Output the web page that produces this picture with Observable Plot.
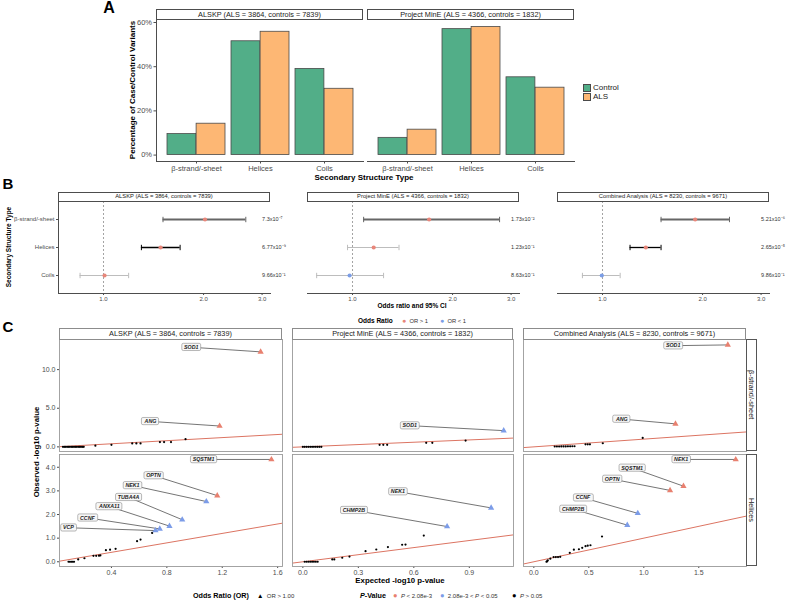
<!DOCTYPE html>
<html><head><meta charset="utf-8">
<script src="https://cdn.jsdelivr.net/npm/d3@7"></script>
<script src="https://cdn.jsdelivr.net/npm/@observablehq/plot@0.6"></script>
<style>
body{margin:0;background:#fff;}
#root{position:relative;width:787px;height:605px;overflow:hidden;font-family:"Liberation Sans",Arial,sans-serif;background:#fff;color:#1a1a1a;}
.abs{position:absolute;white-space:nowrap;line-height:1;}
.strip{position:absolute;box-sizing:border-box;background:#fff;display:flex;align-items:center;justify-content:center;color:#1a1a1a;white-space:nowrap;line-height:1;}
</style></head><body><div id="root"></div>
<script>
// ---------------- DATA ----------------
const structures = ["β-strand/-sheet", "Helices", "Coils"];
const groups = ["Control", "ALS"];
const aDatasets = ["ALSKP (ALS = 3864, controls = 7839)", "Project MinE (ALS = 4366, controls = 1832)"];
// percentage of variants, per dataset, per structure
const aControl = [[9.5, 51.5, 39.0], [7.8, 57.0, 35.2]];
const aALS = [[14.2, 55.8, 30.0], [11.5, 58.0, 30.5]];
const aYTicks = [0, 20, 40, 60];

const bDatasets = ["ALSKP (ALS = 3864, controls = 7839)", "Project MinE (ALS = 4366, controls = 1832)", "Combined Analysis (ALS = 8230, controls = 9671)"];
const bOR = [[2.02, 1.485, 1.007], [1.70, 1.158, 0.98], [1.90, 1.35, 0.995]];
const bLo = [[1.51, 1.30, 0.85], [1.08, 0.966, 0.78], [1.50, 1.21, 0.87]];
const bHi = [[2.68, 1.70, 1.19], [2.77, 1.38, 1.24], [2.41, 1.50, 1.13]];
const bPMant = [["7.3", "6.77", "9.66"], ["1.73", "1.23", "8.63"], ["5.21", "2.65", "9.86"]];
const bPExp = [[-7, -9, -1], [-2, -1, -1], [-6, -5, -1]];
const bTier = [["strong", "sig", "ns"], ["strong", "ns", "ns"], ["strong", "sig", "ns"]];
const bXTicks = [1, 2, 3];
const bXDomain = [0.732, 3.18];

const cCols = ["ALSKP (ALS = 3864, controls = 7839)", "Project MinE (ALS = 4366, controls = 1832)", "Combined Analysis (ALS = 8230, controls = 9671)"];
const cRows = ["β-strand/-sheet", "Helices"];
const cXDomains = [[0.025, 1.635], [-0.056, 1.139], [-0.094, 1.934]];
const cYDomains = [[-0.6, 13.9], [-0.2, 4.54]];
const cXTicks = [[0.4, 0.8, 1.2, 1.6], [0, 0.3, 0.6, 0.9], [0, 0.5, 1.0, 1.5]];
const cYTicks = [[0, 5, 10], [0, 1, 2, 3, 4]];
const pClasses = ["P < 2.08e-3", "2.08e-3 < P < 0.05", "P > 0.05"];

const geneNames = [
  [["SOD1", "ANG"], ["SOD1"], ["SOD1", "ANG"]],
  [["SQSTM1", "OPTN", "NEK1", "TUBA4A", "ANXA11", "CCNF", "VCP"], ["NEK1", "CHMP2B"], ["NEK1", "SQSTM1", "OPTN", "CCNF", "CHMP2B"]]
];
const geneExpected = [
  [[1.477, 1.181], [1.086], [1.764, 1.288]],
  [[1.555, 1.164, 1.085, 0.911, 0.819, 0.749, 0.718], [1.018, 0.78], [1.836, 1.361, 1.239, 0.945, 0.85]]
];
const geneObserved = [
  [[12.3, 2.7], [2.1], [13.2, 2.98]],
  [[4.33, 2.80, 2.55, 1.78, 1.51, 1.39, 1.32], [2.28, 1.49], [4.33, 3.2, 3.02, 2.05, 1.55]]
];
const genePClass = [
  [[0, 0], [1], [0, 0]],
  [[0, 0, 1, 1, 1, 1, 1], [1, 1], [0, 0, 0, 1, 1]]
];
const labelExpected = [
  [[0.976, 0.682], [0.578], [1.267, 0.80]],
  [[1.065, 0.704, 0.552, 0.523, 0.385, 0.226, 0.089], [0.514, 0.276], [1.34, 0.894, 0.712, 0.447, 0.357]]
];
const labelObserved = [
  [[12.9, 3.3], [2.75], [13.1, 3.6]],
  [[4.33, 3.65, 3.23, 2.73, 2.34, 1.86, 1.44], [2.97, 2.18], [4.33, 3.97, 3.5, 2.71, 2.23]]
];
const bgExpected = [
  [[0.05, 0.06, 0.07, 0.08, 0.09, 0.10, 0.11, 0.12, 0.13, 0.14, 0.15, 0.16, 0.17, 0.18, 0.19, 0.20, 0.284, 0.40, 0.55, 0.58, 0.61, 0.75, 0.78, 0.83, 0.935],
   [0.0, 0.01, 0.02, 0.03, 0.04, 0.05, 0.06, 0.07, 0.08, 0.09, 0.10, 0.415, 0.435, 0.456, 0.667, 0.70, 0.88],
   [0.19, 0.21, 0.23, 0.25, 0.27, 0.29, 0.31, 0.33, 0.35, 0.37, 0.47, 0.49, 0.51, 0.627, 0.99]],
  [[0.09, 0.10, 0.11, 0.12, 0.13, 0.16, 0.205, 0.27, 0.29, 0.31, 0.32, 0.36, 0.39, 0.43, 0.585, 0.61, 0.694],
   [0.01, 0.02, 0.03, 0.04, 0.05, 0.06, 0.07, 0.08, 0.159, 0.17, 0.213, 0.252, 0.339, 0.397, 0.46, 0.537, 0.555, 0.654],
   [0.115, 0.12, 0.127, 0.15, 0.18, 0.20, 0.22, 0.24, 0.327, 0.364, 0.41, 0.44, 0.47, 0.49, 0.515, 0.62]]
];
const bgObserved = [
  [[0, 0, 0, 0, 0, 0, 0, 0, 0, 0, 0, 0, 0, 0, 0, 0, 0.15, 0.27, 0.45, 0.45, 0.45, 0.62, 0.62, 0.62, 1.0],
   [0, 0, 0, 0, 0, 0, 0, 0, 0, 0, 0, 0.26, 0.26, 0.26, 0.52, 0.52, 0.81],
   [0.05, 0.05, 0.05, 0.06, 0.06, 0.06, 0.07, 0.07, 0.08, 0.08, 0.33, 0.33, 0.33, 0.47, 1.16]],
  [[0, 0, 0, 0, 0, 0.1, 0.15, 0.25, 0.25, 0.26, 0.27, 0.49, 0.51, 0.55, 0.87, 0.94, 1.22],
   [0, 0, 0, 0, 0, 0, 0, 0, 0.1, 0.1, 0.17, 0.22, 0.45, 0.52, 0.62, 0.72, 0.73, 1.11],
   [0, 0.02, 0.055, 0.13, 0.2, 0.2, 0.2, 0.21, 0.38, 0.51, 0.53, 0.59, 0.66, 0.68, 0.70, 1.07]]
];

// ---------------- STYLE ----------------
const FONT = "'Liberation Sans', Arial, Helvetica, sans-serif";
const colControl = "#52ae88", colALS = "#fdb774";
const colUp = "#e8867a", colDown = "#7b9de6";
const pColors = ["#e8806f", "#7c9ce8", "#000000"];
const root = document.getElementById("root");

function put(el, left, top) { el.style.position = "absolute"; el.style.left = left + "px"; el.style.top = top + "px"; root.appendChild(el); return el; }
function txt(html, cx, cy, css, rotate) {
  const d = document.createElement("div"); d.className = "abs"; d.innerHTML = html;
  Object.assign(d.style, css || {});
  d.style.transform = "translate(-50%,-50%)" + (rotate ? " rotate(" + rotate + "deg)" : "");
  return put(d, cx, cy);
}
function ltxt(html, x, cy, css) {
  const d = document.createElement("div"); d.className = "abs"; d.innerHTML = html;
  Object.assign(d.style, css || {}); d.style.transform = "translate(0,-50%)";
  return put(d, x, cy);
}
function strip(text, x, y, w, h, fs, border, vertical) {
  const d = document.createElement("div"); d.className = "strip";
  d.style.width = w + "px"; d.style.height = h + "px"; d.style.border = "1px solid " + border; d.style.fontSize = fs + "px";
  const s = document.createElement("span"); s.textContent = text;
  if (vertical) { s.style.writingMode = "vertical-rl"; }
  d.appendChild(s);
  return put(d, x, y);
}
function baseStyle(fs) { return {background: "transparent", overflow: "visible", fontFamily: FONT, fontSize: fs + "px", color: "#4d4d4d"}; }

// ---------------- PANEL A ----------------
function panelA(k, frameLeft, showY) {
  const data = [];
  structures.forEach((s, i) => {
    data.push({structure: s, group: "Control", value: aControl[k][i]});
    data.push({structure: s, group: "ALS", value: aALS[k][i]});
  });
  const pw = 207, ph = 141, ml = showY ? 34 : 0, mb = 14;
  const step = pw / 3.2, bw = step * 0.9;
  const svg = Plot.plot({
    width: pw + ml, height: ph + mb, marginLeft: ml, marginRight: 0, marginTop: 0, marginBottom: mb,
    style: baseStyle(7.5),
    x: {domain: structures, paddingInner: 0.1, paddingOuter: 0.15, tickSize: 2.5, tickPadding: 2, label: null, line: true},
    y: {domain: [-2.9, 60.9], ticks: aYTicks, tickFormat: d => d + "%", tickSize: 2.5, tickPadding: 2, label: null, axis: showY ? "left" : null, line: showY},
    marks: [
      Plot.barY(data.filter(d => d.group === "Control"), {x: "structure", y1: 0, y2: "value", fill: colControl, stroke: "#4a4a4a", strokeWidth: 0.8, insetRight: bw / 2}),
      Plot.barY(data.filter(d => d.group === "ALS"), {x: "structure", y1: 0, y2: "value", fill: colALS, stroke: "#4a4a4a", strokeWidth: 0.8, insetLeft: bw / 2})
    ]
  });
  put(svg, frameLeft - ml, 20);
  strip(aDatasets[k], frameLeft, 9, pw, 11, 7.3, "#4d4d4d");
}

// ---------------- PANEL B ----------------
const sup = {"-": "⁻", "0": "⁰", "1": "¹", "2": "²", "3": "³", "4": "⁴", "5": "⁵", "6": "⁶", "7": "⁷", "8": "⁸", "9": "⁹"};
function fmtP(m, e) { return m + "x10" + String(e).split("").map(c => sup[c]).join(""); }
const tierStyle = {strong: ["#666666", 1.8], sig: ["#000000", 1.3], ns: ["#bdbdbd", 1]};
const capSymbol = {draw(ctx, size) { const r = Math.sqrt(size / Math.PI); ctx.moveTo(0, -r); ctx.lineTo(0, r); }};
function panelB(k, frameLeft, showY) {
  const rows = structures.map((s, i) => ({structure: s, or: bOR[k][i], lo: bLo[k][i], hi: bHi[k][i], p: fmtP(bPMant[k][i], bPExp[k][i]), tier: bTier[k][i], pos: 3}));
  const pw = 212, ph = 92, ml = showY ? 58 : 0, mb = 12;
  const marks = [Plot.ruleX([1], {stroke: "#8a8a8a", strokeDasharray: "2,2", strokeWidth: 0.8})];
  for (const t of ["ns", "strong", "sig"]) {
    const sub = rows.filter(d => d.tier === t);
    const [c, w] = tierStyle[t];
    marks.push(Plot.ruleY(sub, {y: "structure", x1: "lo", x2: "hi", stroke: c, strokeWidth: w}));
    marks.push(Plot.dot(sub, {x: "lo", y: "structure", symbol: capSymbol, r: 2.7, fill: "none", stroke: c, strokeWidth: 1}));
    marks.push(Plot.dot(sub, {x: "hi", y: "structure", symbol: capSymbol, r: 2.7, fill: "none", stroke: c, strokeWidth: 1}));
  }
  marks.push(Plot.dot(rows, {x: "or", y: "structure", r: 2.1, fill: d => d.or >= 1 ? colUp : colDown}));
  marks.push(Plot.text(rows, {x: "pos", y: "structure", text: "p", textAnchor: "start", fontSize: 5.5, fill: "#333"}));
  const svg = Plot.plot({
    width: pw + ml + 30, height: ph + mb, marginLeft: ml, marginRight: 30, marginTop: 0, marginBottom: mb,
    style: baseStyle(6),
    color: {type: "identity"},
    x: {type: "log", domain: bXDomain, ticks: bXTicks, tickFormat: d3.format(".1f"), tickSize: 2, tickPadding: 1.5, label: null, line: true},
    y: {type: "point", domain: structures, padding: 0.6, tickSize: 2, tickPadding: 2, label: null, axis: showY ? "left" : null, line: showY},
    marks
  });
  put(svg, frameLeft - ml, 201);
  strip(bDatasets[k], frameLeft, 192, pw, 9.5, 5.8, "#4d4d4d");
}

// ---------------- PANEL C ----------------
const cColX = [59, 292, 523], cColW = [223, 221, 223];
const cRowY = [339, 454], cRowH = 112;
function panelC(r, c) {
  const xd = cXDomains[c], yd = cYDomains[r];
  const genes = geneNames[r][c].map((g, i) => ({gene: g, x: geneExpected[r][c][i], y: geneObserved[r][c][i], lx: labelExpected[r][c][i], ly: labelObserved[r][c][i], p: pClasses[genePClass[r][c][i]]}));
  const bg = bgExpected[r][c].map((x, i) => ({x, y: bgObserved[r][c][i], p: pClasses[2]}));
  const showY = c === 0, showX = r === 1;
  const pw = cColW[c], ml = showY ? 30 : 0, mb = showX ? 12 : 0;
  const svg = Plot.plot({
    width: pw + ml, height: cRowH + mb, marginLeft: ml, marginRight: 0, marginTop: 0, marginBottom: mb,
    style: baseStyle(7),
    x: {domain: xd, ticks: cXTicks[c], tickFormat: d3.format(".1f"), tickSize: 2, tickPadding: 1.5, label: null, axis: showX ? "bottom" : null},
    y: {domain: yd, ticks: cYTicks[r], tickFormat: d3.format(".1f"), tickSize: 2, tickPadding: 2, label: null, axis: showY ? "left" : null},
    color: {domain: pClasses, range: pColors},
    marks: [
      Plot.link([{x1: xd[0], x2: xd[1]}], {x1: "x1", y1: "x1", x2: "x2", y2: "x2", stroke: "#dc7462", strokeWidth: 1, clip: true}),
      Plot.dot(bg, {x: "x", y: "y", r: 1.1, fill: "p"}),
      Plot.link(genes, {x1: "lx", y1: "ly", x2: "x", y2: "y", stroke: "#3a3a3a", strokeWidth: 0.7}),
      Plot.dot(genes, {x: "x", y: "y", symbol: "triangle", r: 2.3, fill: "p"}),
      Plot.text(genes, {x: "lx", y: "ly", text: "gene", fontSize: 5.3, fontWeight: "bold", fontStyle: "italic", fill: "#222"}),
      Plot.frame({stroke: "#9a9a9a", strokeWidth: 0.9})
    ]
  });
  put(svg, cColX[c] - ml, cRowY[r]);
  return svg;
}

// ---------------- BUILD ----------------
txt("A", 109, 8, {fontSize: "16px", fontWeight: "bold", color: "#000"});
txt("Percentage of Case/Control Variants", 133, 90, {fontSize: "8px", fontWeight: "bold", color: "#000"}, -90);
panelA(0, 156, true);
panelA(1, 367, false);
txt("Secondary Structure Type", 364, 178, {fontSize: "8px", fontWeight: "bold", color: "#000"});
// legend A
[["Control", colControl, 84], ["ALS", colALS, 92.5]].forEach(([lab, col, y]) => {
  const b = document.createElement("div");
  Object.assign(b.style, {width: "8px", height: "8px", background: col, border: "0.8px solid #4a4a4a", boxSizing: "border-box"});
  put(b, 583, y);
  ltxt(lab, 593, y + 4, {fontSize: "8px", color: "#1a1a1a"});
});

txt("B", 8, 183, {fontSize: "15px", fontWeight: "bold", color: "#000"});
txt("Secondary Structure Type", 9, 247, {fontSize: "6.5px", fontWeight: "bold", color: "#000"}, -90);
panelB(0, 58, true);
panelB(1, 307, false);
panelB(2, 557, false);
txt("Odds ratio and 95% CI", 412, 306, {fontSize: "6.5px", fontWeight: "bold", color: "#000"});

txt("C", 8, 326, {fontSize: "15px", fontWeight: "bold", color: "#000"});
// top legend of C
ltxt("Odds Ratio", 358, 321, {fontSize: "6.5px", fontWeight: "bold", color: "#000"});
ltxt("<span style='color:" + colUp + ";font-size:7px'>●</span>&nbsp; OR &gt; 1", 402, 321, {fontSize: "5.8px", color: "#333"});
ltxt("<span style='color:" + colDown + ";font-size:7px'>●</span>&nbsp; OR &lt; 1", 440, 321, {fontSize: "5.8px", color: "#333"});

const cSvgs = [];
for (let r = 0; r < 2; r++) for (let c = 0; c < 3; c++) cSvgs.push(panelC(r, c));
for (let c = 0; c < 3; c++) strip(cCols[c], cColX[c], 328, cColW[c], 11.5, 7.3, "#8c8c8c");
strip(cRows[0], 746, cRowY[0], 11, cRowH, 7.3, "#555", true);
strip(cRows[1], 746, cRowY[1], 11, cRowH, 7.3, "#555", true);
txt("Observed -log10 p-value", 37, 452, {fontSize: "7.8px", fontWeight: "bold", color: "#000"}, -90);
txt("Expected -log10 p-value", 400, 581, {fontSize: "7.8px", fontWeight: "bold", color: "#000"});

// bottom legends
ltxt("Odds Ratio (OR)", 193, 596, {fontSize: "7.2px", fontWeight: "bold", color: "#000"});
ltxt("<span style='font-size:6.5px;color:#000'>▲</span>&nbsp; OR &gt; 1.00", 257, 596, {fontSize: "6px", color: "#333"});
ltxt("<i>P</i>-Value", 360, 596, {fontSize: "7.2px", fontWeight: "bold", color: "#000"});
ltxt("<span style='color:" + pColors[0] + ";font-size:7.5px'>●</span>&nbsp; <i>P</i> &lt; 2.08e-3", 393, 596, {fontSize: "6px", color: "#333"});
ltxt("<span style='color:" + pColors[1] + ";font-size:7.5px'>●</span>&nbsp; 2.08e-3 &lt; <i>P</i> &lt; 0.05", 440, 596, {fontSize: "6px", color: "#333"});
ltxt("<span style='color:#000;font-size:7.5px'>●</span>&nbsp; <i>P</i> &gt; 0.05", 512, 596, {fontSize: "6px", color: "#333"});

// label boxes (ggrepel-like) behind gene labels: the only text mark in each panel C plot
const NS = "http://www.w3.org/2000/svg";
cSvgs.forEach(svg => {
  const texts = Array.from(svg.querySelectorAll("text")).filter(t => {
    const g = t.closest("g[aria-label]");
    const lab = g ? g.getAttribute("aria-label") : "";
    return !/axis|tick/.test(lab) && geneNames.flat(2).includes(t.textContent);
  });
  texts.forEach(t => {
    const b = t.getBBox();
    const rect = document.createElementNS(NS, "rect");
    rect.setAttribute("x", b.x - 2.2); rect.setAttribute("y", b.y - 0.6);
    rect.setAttribute("width", b.width + 4.4); rect.setAttribute("height", b.height + 1.2);
    rect.setAttribute("rx", 1.5); rect.setAttribute("fill", "#f7f7f7");
    rect.setAttribute("stroke", "#8a8a8a"); rect.setAttribute("stroke-width", 0.6);
    const tr = t.getAttribute("transform"); if (tr) rect.setAttribute("transform", tr);
    t.parentNode.insertBefore(rect, t);
  });
});
</script></body></html>
